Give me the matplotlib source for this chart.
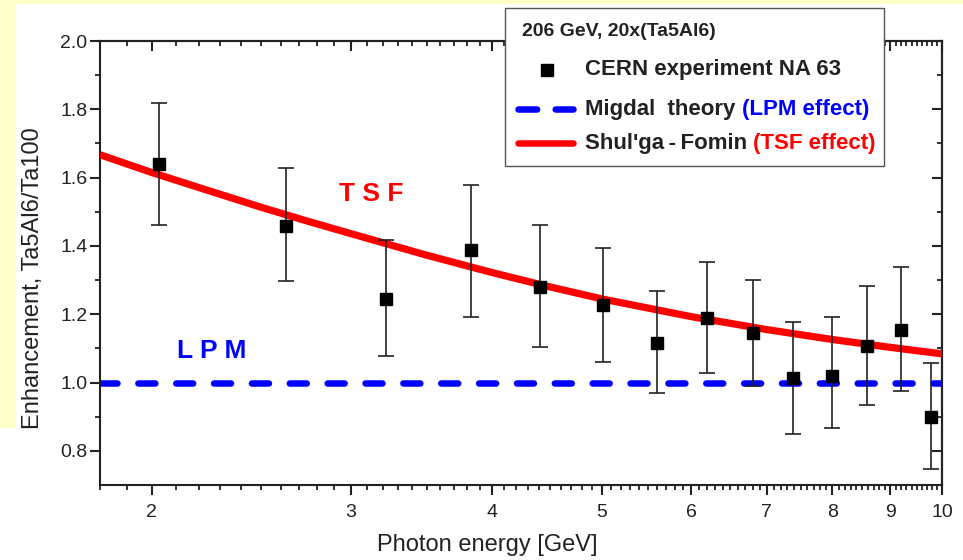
import numpy as np
import matplotlib
matplotlib.use("Agg")
import matplotlib.pyplot as plt
from matplotlib.lines import Line2D
from matplotlib.patches import Rectangle
from matplotlib.text import Annotation
from matplotlib.ticker import FixedLocator, NullFormatter

plt.rcParams["font.family"] = ["Liberation Sans", "DejaVu Sans"]

# CERN NA63 data points (photon energy [GeV], enhancement, error bar ends)
energy = [2.03, 2.63, 3.22, 3.83, 4.41, 5.01, 5.60, 6.20, 6.80, 7.38, 7.99, 8.58, 9.20, 9.78]
enhancement = [1.641, 1.459, 1.246, 1.389, 1.281, 1.228, 1.117, 1.190, 1.146, 1.012, 1.020, 1.108, 1.155, 0.900]
err_high = [1.819, 1.629, 1.416, 1.579, 1.462, 1.395, 1.269, 1.354, 1.301, 1.178, 1.193, 1.284, 1.337, 1.056]
err_low = [1.462, 1.296, 1.079, 1.193, 1.105, 1.061, 0.968, 1.029, 0.991, 0.848, 0.868, 0.933, 0.974, 0.748]

# Shul'ga-Fomin (TSF) curve
tsf_energy = [1.8, 2.0, 2.25, 2.5, 2.75, 3.0, 3.5, 4.0, 4.5, 5.0, 6.0, 7.0, 8.0, 9.0, 10.0]
tsf_value = [1.667, 1.615, 1.561, 1.513, 1.472, 1.436, 1.373, 1.322, 1.280, 1.245,
             1.193, 1.155, 1.126, 1.103, 1.084]

# Migdal (LPM) prediction
lpm_energy = [1.8, 10.0]
lpm_value = [1.0, 1.0]

x_major = [2, 3, 4, 5, 6, 7, 8, 9, 10]
x_minor = [v / 10 for v in range(18, 100) if v % 10 != 0]
y_major = [0.8, 1.0, 1.2, 1.4, 1.6, 1.8, 2.0]
y_minor = [0.9, 1.1, 1.3, 1.5, 1.7, 1.9]

W, H = 963, 560
fig = plt.figure(figsize=(W / 100, H / 100), dpi=100)
fig.patch.set_facecolor("white")


def fx(px):
    return px / W


def fy(py):
    return 1 - py / H


# yellow slide background showing around the picture
yellow = "#FFFFCC"
fig.add_artist(Rectangle((0, fy(4)), 1, 4 / H, transform=fig.transFigure,
                         facecolor=yellow, edgecolor="none", zorder=-5))
fig.add_artist(Rectangle((0, fy(428)), 16 / W, 428 / H, transform=fig.transFigure,
                         facecolor=yellow, edgecolor="none", zorder=-5))

ax = fig.add_axes([fx(100), fy(485), fx(942) - fx(100), fy(41) - fy(485)])
ax.set_facecolor("white")
ax.set_xscale("log")
ax.set_xlim(1.8, 10)
ax.set_ylim(0.7, 2.0)

dark = "#222222"

ax.plot(lpm_energy, lpm_value, color="#0000FF", lw=4.7, dashes=(2.6, 3.2),
        dash_capstyle="round", zorder=2)
ax.plot(tsf_energy, tsf_value, color="#FF0000", lw=5.2, solid_capstyle="butt",
        solid_joinstyle="round", zorder=3)

yerr = [np.array(enhancement) - np.array(err_low), np.array(err_high) - np.array(enhancement)]
ax.errorbar(energy, enhancement, yerr=yerr, fmt="s", color="black", ecolor=dark,
            markersize=8, elinewidth=1.2, capsize=5.5, capthick=1.2, zorder=4)

ax.text(3.13, 1.553, "T S F", color="#FF0000", fontsize=19, fontweight="bold",
        ha="center", va="center")
ax.text(2.26, 1.091, "L P M", color="#0000FF", fontsize=19, fontweight="bold",
        ha="center", va="center")

# ticks: left/bottom outward, top/right inward
ax.xaxis.set_major_locator(FixedLocator(x_major))
ax.xaxis.set_minor_locator(FixedLocator(x_minor))
ax.set_xticklabels([str(v) for v in x_major])
ax.xaxis.set_minor_formatter(NullFormatter())
ax.yaxis.set_major_locator(FixedLocator(y_major))
ax.yaxis.set_minor_locator(FixedLocator(y_minor))
ax.set_yticklabels([f"{v:.1f}" for v in y_major])

ax.tick_params(which="major", direction="out", length=7, width=1.5, color=dark,
               labelsize=14, labelcolor=dark)
ax.tick_params(which="minor", direction="out", length=3.5, width=1.3, color=dark)
ax.tick_params(axis="x", which="major", pad=7)
ax.tick_params(axis="y", which="major", pad=2)

top = ax.secondary_xaxis("top")
top.xaxis.set_major_locator(FixedLocator(x_major))
top.xaxis.set_minor_locator(FixedLocator(x_minor))
top.xaxis.set_major_formatter(NullFormatter())
top.xaxis.set_minor_formatter(NullFormatter())
top.tick_params(which="major", direction="in", length=7, width=1.5, color=dark)
top.tick_params(which="minor", direction="in", length=3.5, width=1.3, color=dark)

right = ax.secondary_yaxis("right")
right.yaxis.set_major_locator(FixedLocator(y_major))
right.yaxis.set_minor_locator(FixedLocator(y_minor))
right.yaxis.set_major_formatter(NullFormatter())
right.yaxis.set_minor_formatter(NullFormatter())
right.tick_params(which="major", direction="in", length=7, width=1.5, color=dark)
right.tick_params(which="minor", direction="in", length=3.5, width=1.3, color=dark)

for sp in list(ax.spines.values()) + [top.spines["top"], right.spines["right"]]:
    sp.set_linewidth(1.5)
    sp.set_color(dark)

ax.set_xlabel("Photon energy [GeV]", fontsize=17, color=dark)
ax.set_ylabel("Enhancement, Ta5Al6/Ta100", fontsize=17, color=dark)
ax.xaxis.set_label_coords(0.46, -0.11)
ax.yaxis.set_label_coords(-0.066, 0.466)

# legend box built by hand (mixed text colours)
fig.add_artist(Rectangle((fx(505), fy(166)), 379 / W, 158 / H, transform=fig.transFigure,
                         facecolor="white", edgecolor="#555555", lw=1.0, zorder=10))
fig.text(fx(522), fy(32), "206 GeV, 20x(Ta5Al6)", fontsize=14, fontweight="bold",
         color=dark, ha="left", va="center", zorder=11)

fig.add_artist(Line2D([fx(547)], [fy(70)], marker="s", markersize=8, color="black",
                      transform=fig.transFigure, zorder=11))
fig.text(fx(585), fy(70), "CERN experiment NA 63", fontsize=16, fontweight="bold",
         color=dark, ha="left", va="center", zorder=11)

fig.add_artist(Line2D([fx(518), fx(573)], [fy(109), fy(109)], color="#0000FF", lw=4.7,
                      dashes=(2.85, 2.85), dash_capstyle="round",
                      transform=fig.transFigure, zorder=11))
t1 = fig.text(fx(585), fy(109), "Migdal  theory ", fontsize=16, fontweight="bold",
              color=dark, ha="left", va="center", zorder=11)
fig.add_artist(Annotation("(LPM effect)", xy=(1, 0), xycoords=t1, fontsize=16,
                          fontweight="bold", color="#0000FF", ha="left", va="bottom",
                          annotation_clip=False, zorder=11))

fig.add_artist(Line2D([fx(518), fx(573)], [fy(143), fy(143)], color="#FF0000", lw=4.7,
                      solid_capstyle="round", transform=fig.transFigure, zorder=11))
t2 = fig.text(fx(585), fy(143), "Shul'ga\u2009-\u2009Fomin ", fontsize=16, fontweight="bold",
              color=dark, ha="left", va="center", zorder=11)
fig.add_artist(Annotation("(TSF effect)", xy=(1, 0), xycoords=t2, fontsize=16,
                          fontweight="bold", color="#FF0000", ha="left", va="bottom",
                          annotation_clip=False, zorder=11))

fig.savefig("out.png", dpi=100, facecolor=fig.get_facecolor())
